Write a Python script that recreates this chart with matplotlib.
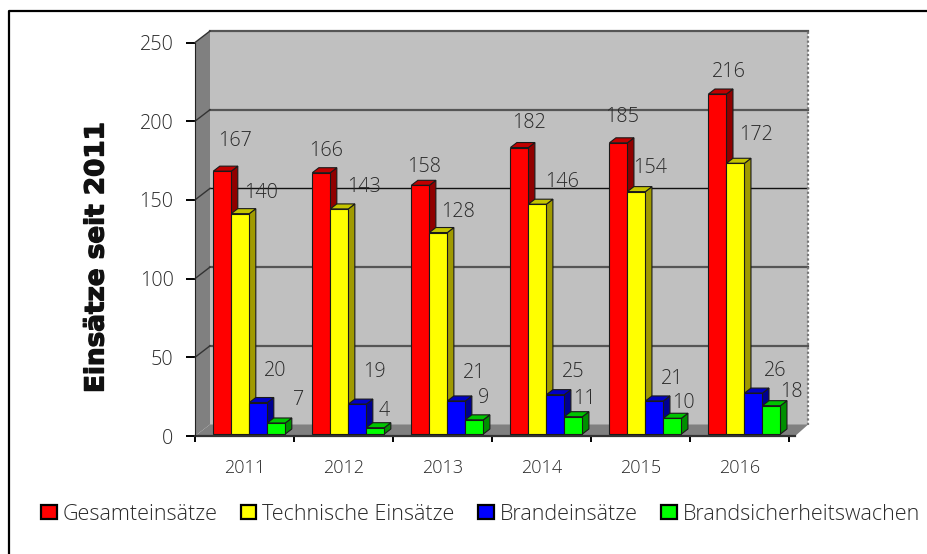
# Einsaetze seit 2011 - 3D style bar chart

import matplotlib
matplotlib.use("Agg")
import matplotlib.pyplot as plt
import matplotlib.patheffects as pe
from matplotlib.lines import Line2D
from matplotlib.patches import Patch

plt.rcParams["font.family"] = ["Open Sans", "DejaVu Sans"]

# 1) DATA

years = ["2011", "2012", "2013", "2014", "2015", "2016"]
gesamt = [167, 166, 158, 182, 185, 216]
technisch = [140, 143, 128, 146, 154, 172]
brand = [20, 19, 21, 25, 21, 26]
wachen = [7, 4, 9, 11, 10, 18]
series_names = ["Gesamteinsätze", "Technische Einsätze", "Brandeinsätze", "Brandsicherheitswachen"]
y_ticks = [0, 50, 100, 150, 200, 250]

# label offsets from the bar top in pixels, the original places them unevenly
label_offsets = [
    [(13, 30), (5, 22), (4, 18), (10, 25), (4, 26), (11, 22)],
    [(21, 21), (25, 22), (20, 21), (25, 22), (14, 24), (21, 28)],
    [(17, 32), (17, 32), (18, 28), (18, 23), (18, 22), (22, 22)],
    [(22, 23), (9, 17), (9, 22), (11, 18), (11, 15), (20, 14)],
]

# 2) STYLE

W, H = 927, 554
LEFT, RIGHT, TOP, BOTTOM = 195, 789.2, 42.5, 436
PX_X = 6 / (RIGHT - LEFT)
PX_Y = 250 / (BOTTOM - TOP)

WALL_DX = 15 * PX_X
WALL_DY = 11.5 * PX_Y
BAR_W = 18 * PX_X
BAR_START = 18.3 * PX_X
BAR_BASE = 2 * PX_Y
DEPTH_X = 6.5 * PX_X
DEPTH_Y = 5 * PX_Y

front = ["#ff0000", "#ffff00", "#0000ff", "#00ff00"]
top_c = ["#c00000", "#c4c400", "#0000c4", "#00c400"]
side = ["#900000", "#a09a00", "#000090", "#009000"]
edge = "#1a1a1a"
text_c = "#2a2a2a"
fs = 14.2

fig = plt.figure(figsize=(W / 100, H / 100), dpi=100)
ax = fig.add_axes([LEFT / W, 1 - BOTTOM / H, (RIGHT - LEFT) / W, (BOTTOM - TOP) / H])
ax.set_xlim(0, 6)
ax.set_ylim(0, 250)
ax.patch.set_visible(False)

# 3) WALLS

back_r = 6 + 19 * PX_X
ax.fill([WALL_DX, back_r, back_r, WALL_DX],
        [WALL_DY, WALL_DY, 250 + WALL_DY, 250 + WALL_DY],
        color="#c0c0c0", clip_on=False, zorder=1, lw=0)
ax.fill([0, WALL_DX, WALL_DX, 0], [0, WALL_DY, 250 + WALL_DY, 250],
        color="#808080", clip_on=False, zorder=1, lw=0)
ax.fill([0, 6 + 6 * PX_X, back_r, WALL_DX], [0, 0, WALL_DY, WALL_DY],
        color="#808080", clip_on=False, zorder=1, lw=0)

# gridlines: 150 is thin and black, the rest are thick and grey
for t in y_ticks[1:]:
    col, lw = ("#111111", 1.0) if t == 150 else ("#555555", 1.6)
    ax.plot([WALL_DX, back_r], [t + WALL_DY, t + WALL_DY], color=col, lw=lw, clip_on=False, zorder=2)
    ax.plot([0, WALL_DX], [t, t + WALL_DY], color="#333333", lw=1.0, clip_on=False, zorder=2)
ax.plot([back_r, back_r], [WALL_DY, 250 + WALL_DY], color="#777777", lw=1.6, ls=(0, (1, 1)),
        clip_on=False, zorder=2)

# 4) BARS

all_series = [gesamt, technisch, brand, wachen]
for j, values in enumerate(all_series):
    for i, v in enumerate(values):
        x0 = i + BAR_START + j * BAR_W
        x1 = x0 + BAR_W
        y1 = v + BAR_BASE
        z = 3 + j
        ax.fill([x1, x1 + DEPTH_X, x1 + DEPTH_X, x1],
                [BAR_BASE, BAR_BASE + DEPTH_Y, y1 + DEPTH_Y, y1],
                facecolor=side[j], edgecolor=edge, lw=0.8, clip_on=False, zorder=z)
        ax.fill([x0, x1, x1 + DEPTH_X, x0 + DEPTH_X],
                [y1, y1, y1 + DEPTH_Y, y1 + DEPTH_Y],
                facecolor=top_c[j], edgecolor=edge, lw=0.8, clip_on=False, zorder=z)
        ax.bar(x0, v, BAR_W, bottom=BAR_BASE, align="edge", color=front[j],
               edgecolor=edge, lw=0.8, clip_on=False, zorder=z)

for j, values in enumerate(all_series):
    for i, v in enumerate(values):
        xc = i + BAR_START + (j + 0.5) * BAR_W
        ax.annotate(str(v), (xc, v + BAR_BASE), xytext=label_offsets[j][i],
                    textcoords="offset pixels", ha="center", va="center",
                    fontsize=fs, fontweight=300, color=text_c, zorder=10,
                    annotation_clip=False)

# 5) AXES

for s in ["top", "right"]:
    ax.spines[s].set_visible(False)
ax.spines["left"].set_color("#222222")
ax.spines["left"].set_zorder(9)
ax.spines["bottom"].set_visible(False)
ax.plot([0, 6 + 6 * PX_X], [0, 0], color="#333333", lw=1.6, clip_on=False, zorder=9)

ax.set_yticks(y_ticks)
ax.tick_params(axis="y", length=6.5, width=1.4, color="black", pad=9,
               labelsize=fs, labelcolor=text_c)
ax.set_xticks(range(7))
ax.set_xticklabels([])
ax.tick_params(axis="x", which="major", length=4, width=1.4, color="black", zorder=9)
ax.set_xticks([i + 0.5 for i in range(6)], minor=True)
ax.set_xticklabels(years, minor=True, fontsize=13, color=text_c)
ax.tick_params(axis="x", which="minor", length=0, pad=16.5)

for lab in ax.get_yticklabels() + ax.get_xticklabels(minor=True):
    lab.set_fontweight(300)

ylab = fig.text(96.5 / W, 1 - 257.5 / H, "Einsätze seit 2011", rotation=90, ha="center", va="center",
                fontsize=18.9, fontweight="bold", family="DejaVu Sans", color="#111111")
ylab.set_path_effects([pe.withStroke(linewidth=0.9, foreground="#111111")])

# 6) LEGEND

handles = [Patch(facecolor=c, edgecolor="black", lw=1.6) for c in front]
leg = fig.legend(handles, series_names, ncol=4, loc="center left",
                 bbox_to_anchor=(41 / W, 1 - 514 / H), frameon=False, fontsize=15.5,
                 handlelength=0.72, handleheight=0.68, handletextpad=0.27,
                 columnspacing=1.1, borderpad=0, borderaxespad=0,
                 labelcolor=text_c)
for t in leg.get_texts():
    t.set_fontweight(300)

# outer frame, only top and left are visible in the original
fig.add_artist(Line2D([9 / W, 9 / W, 1], [0, 1 - 11 / H, 1 - 11 / H], color="black", lw=1.6,
                      transform=fig.transFigure))

fig.savefig("out.png", dpi=100)
